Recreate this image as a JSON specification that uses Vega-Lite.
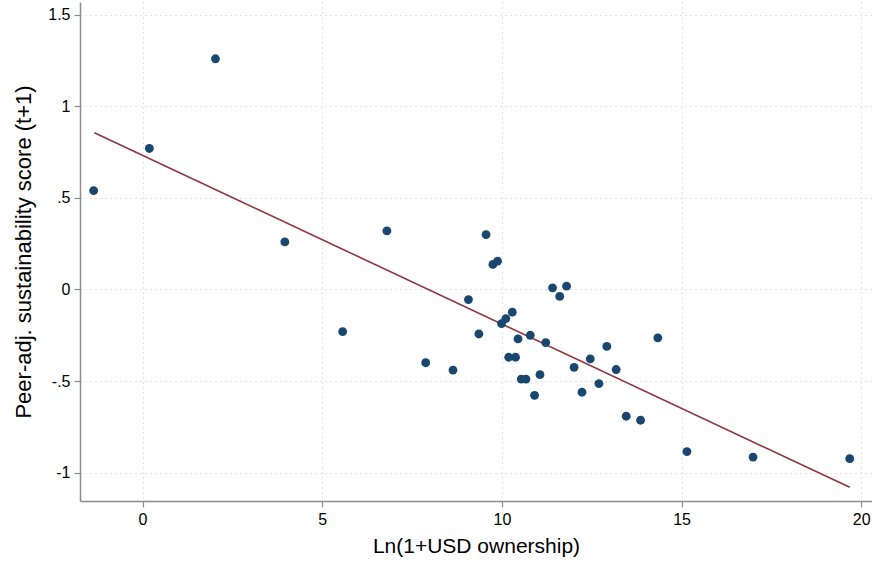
{
  "$schema": "https://vega.github.io/schema/vega-lite/v6.json",
  "width": 792,
  "height": 499,
  "autosize": {"type": "none"},
  "padding": {"left": 80, "top": 2, "right": 0, "bottom": 60},
  "background": "white",
  "config": {
    "view": {"stroke": null},
    "font": "Liberation Sans"
  },
  "datasets": {
    "pts": [
      {"x": -1.36, "y": 0.54}, {"x": 0.19, "y": 0.77}, {"x": 2.03, "y": 1.26},
      {"x": 3.96, "y": 0.26}, {"x": 5.57, "y": -0.23}, {"x": 6.80, "y": 0.32},
      {"x": 7.88, "y": -0.40}, {"x": 8.64, "y": -0.44}, {"x": 9.56, "y": 0.30},
      {"x": 9.75, "y": 0.137}, {"x": 9.88, "y": 0.155}, {"x": 9.07, "y": -0.055},
      {"x": 11.41, "y": 0.009}, {"x": 11.80, "y": 0.018}, {"x": 11.61, "y": -0.038},
      {"x": 10.29, "y": -0.124}, {"x": 10.11, "y": -0.159}, {"x": 9.99, "y": -0.186},
      {"x": 9.36, "y": -0.243}, {"x": 10.45, "y": -0.27}, {"x": 10.79, "y": -0.25},
      {"x": 11.22, "y": -0.29}, {"x": 14.34, "y": -0.264}, {"x": 12.92, "y": -0.311},
      {"x": 10.19, "y": -0.37}, {"x": 10.38, "y": -0.37}, {"x": 12.46, "y": -0.379},
      {"x": 12.01, "y": -0.425}, {"x": 13.18, "y": -0.437}, {"x": 11.06, "y": -0.465},
      {"x": 10.54, "y": -0.489}, {"x": 10.67, "y": -0.489}, {"x": 12.70, "y": -0.514},
      {"x": 12.23, "y": -0.561}, {"x": 10.91, "y": -0.578}, {"x": 13.46, "y": -0.692},
      {"x": 13.86, "y": -0.714}, {"x": 15.15, "y": -0.885}, {"x": 16.99, "y": -0.915},
      {"x": 19.68, "y": -0.924}
    ],
    "fit": [
      {"x": -1.34, "y": 0.856},
      {"x": 19.68, "y": -1.080}
    ]
  },
  "encoding": {
    "x": {
      "field": "x", "type": "quantitative",
      "scale": {"domain": [-1.74, 20.3], "nice": false, "zero": false},
      "axis": {
        "title": "Ln(1+USD ownership)",
        "values": [0, 5, 10, 15, 20],
        "grid": true, "gridColor": "#c8c8c8", "gridDash": [1, 4], "gridWidth": 1,
        "domainColor": "#8c8c8c", "domainWidth": 1.5,
        "tickColor": "#8c8c8c", "tickSize": 6, "tickWidth": 1.2,
        "labelFontSize": 16, "labelColor": "#000", "labelPadding": 4, "labelFont": "Liberation Sans",
        "titleFontSize": 21, "titleFontWeight": "normal", "titleColor": "#000", "titlePadding": 8, "titleFont": "Liberation Sans"
      }
    },
    "y": {
      "field": "y", "type": "quantitative",
      "scale": {"domain": [-1.155, 1.57], "nice": false, "zero": false},
      "axis": {
        "title": "Peer-adj. sustainability score (t+1)",
        "values": [-1, -0.5, 0, 0.5, 1, 1.5],
        "labelExpr": "datum.value == 1.5 ? '1.5' : datum.value == 1 ? '1' : datum.value == 0.5 ? '.5' : datum.value == 0 ? '0' : datum.value == -0.5 ? '-.5' : '-1'",
        "grid": true, "gridColor": "#c8c8c8", "gridDash": [1, 4], "gridWidth": 1,
        "domainColor": "#8c8c8c", "domainWidth": 1.5,
        "tickColor": "#8c8c8c", "tickSize": 6, "tickWidth": 1.2,
        "labelFontSize": 16, "labelColor": "#000", "labelPadding": 4, "labelFont": "Liberation Sans",
        "titleFontSize": 22, "titleFontWeight": "normal", "titleColor": "#000", "titlePadding": 12, "titleFont": "Liberation Sans"
      }
    }
  },
  "layer": [
    {
      "data": {"name": "fit"},
      "mark": {"type": "line", "color": "#90353b", "strokeWidth": 1.6}
    },
    {
      "data": {"name": "pts"},
      "mark": {"type": "point", "filled": true, "shape": "circle", "size": 78, "color": "#1a476f", "opacity": 1}
    }
  ]
}
